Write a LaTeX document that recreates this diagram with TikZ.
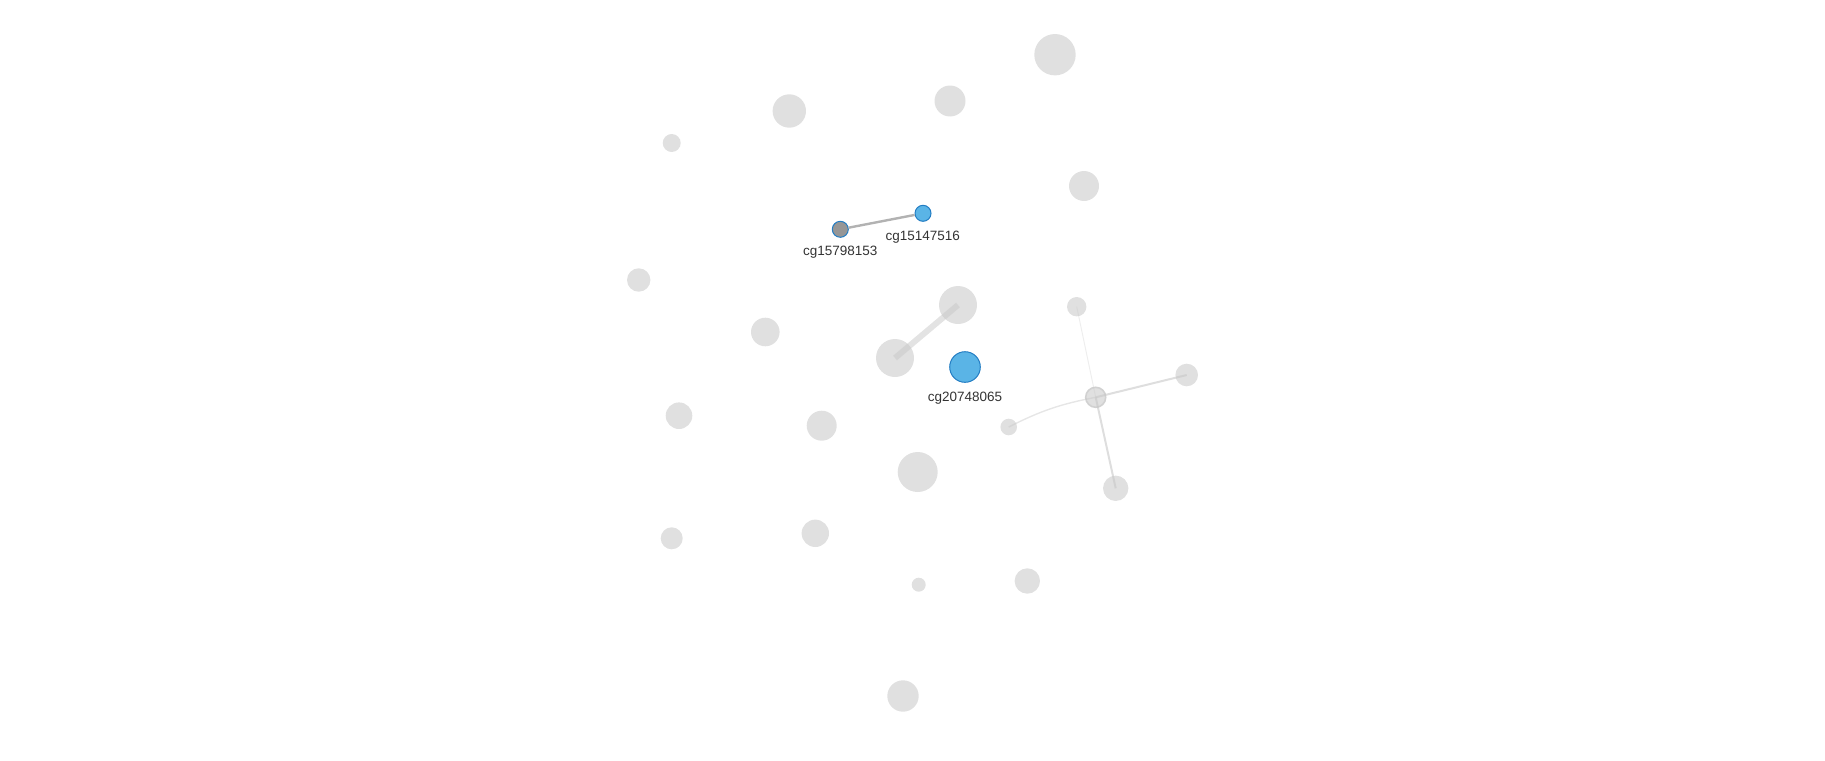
\documentclass[tikz,border=0pt]{standalone}
\usepackage{fontspec}
\setmainfont{Liberation Sans}
\definecolor{nodegray}{RGB}{224,224,224}
\definecolor{edgegray}{RGB}{200,200,200}
\definecolor{bluefill}{RGB}{90,180,230}
\definecolor{blueborder}{RGB}{35,125,195}
\definecolor{darkfill}{RGB}{150,150,150}
\definecolor{labeltext}{RGB}{51,51,51}
\begin{document}
\begin{tikzpicture}[x=1pt,y=-1pt,
  vtx/.style={circle,inner sep=0pt,fill=nodegray,minimum size=#1},
  selblue/.style={circle,inner sep=0pt,fill=bluefill,draw=blueborder,line width=1pt,minimum size=#1},
  seldark/.style={circle,inner sep=0pt,fill=darkfill,draw=blueborder,line width=1pt,minimum size=#1},
  hub/.style={circle,inner sep=0pt,fill=nodegray,draw=black!18,line width=1.6pt,minimum size=#1},
  lbl/.style={inner sep=0pt,text=labeltext,font=\fontsize{13.5}{16}\selectfont},
  lnk/.style={draw=edgegray,draw opacity=0.5,line width=#1,line cap=butt}
]
\useasboundingbox (0,0) rectangle (1825,760);
% plain nodes
\node[vtx=41.4pt] (n1) at (1055,54.7) {};
\node[vtx=33.4pt] (n2) at (789.3,111) {};
\node[vtx=31pt] (n3) at (950,101) {};
\node[vtx=18pt] (n4) at (671.7,143) {};
\node[vtx=30pt] (n5) at (1084,186) {};
\node[vtx=23.4pt] (n8) at (638.7,280) {};
\node[vtx=38pt] (n9) at (958,305) {};
\node[vtx=19.4pt] (n10) at (1076.7,306.7) {};
\node[vtx=28.6pt] (n11) at (765.3,332) {};
\node[vtx=38pt] (n12) at (895,358) {};
\node[vtx=22.6pt] (n14) at (1186.7,375) {};
\node[hub=20pt] (n15) at (1095.7,397.3) {};
\node[vtx=26.6pt] (n16) at (679,415.7) {};
\node[vtx=30pt] (n17) at (821.7,425.7) {};
\node[vtx=16.6pt] (n18) at (1008.7,427) {};
\node[vtx=40pt] (n19) at (917.7,472) {};
\node[vtx=25.4pt] (n20) at (1115.7,488.3) {};
\node[vtx=22pt] (n21) at (671.7,538.3) {};
\node[vtx=27.4pt] (n22) at (815.3,533.3) {};
\node[vtx=14pt] (n23) at (918.7,584.7) {};
\node[vtx=25.4pt] (n24) at (1027.3,581) {};
\node[vtx=31.4pt] (n25) at (903,696) {};
% edges (drawn over nodes)
\draw[lnk=6pt] (n12.center) -- (n9.center);
\draw[lnk=1pt,draw opacity=0.3] (n15.center) -- (n10.center);
\draw[lnk=2pt,draw opacity=0.6] (n15.center) -- (n14.center);
\draw[lnk=2pt,draw opacity=0.6] (n15.center) -- (n20.center);
\draw[lnk=1.4pt,draw opacity=0.45] (n18.center) to[bend left=8] (n15.center);
% highlighted nodes
\node[seldark=16pt] (n6) at (840.3,229.3) {};
\node[selblue=16pt] (n7) at (923,213.3) {};
\draw[draw=black!30,line width=2.4pt] (n6) -- (n7);
\node[selblue=30.6pt] (n13) at (965,367) {};
% labels
\node[lbl] (l6) at (840.3,252.3) {cg15798153};
\node[lbl] (l7) at (922.7,236.7) {cg15147516};
\node[lbl] (l13) at (965,397.7) {cg20748065};
\end{tikzpicture}
\end{document}
